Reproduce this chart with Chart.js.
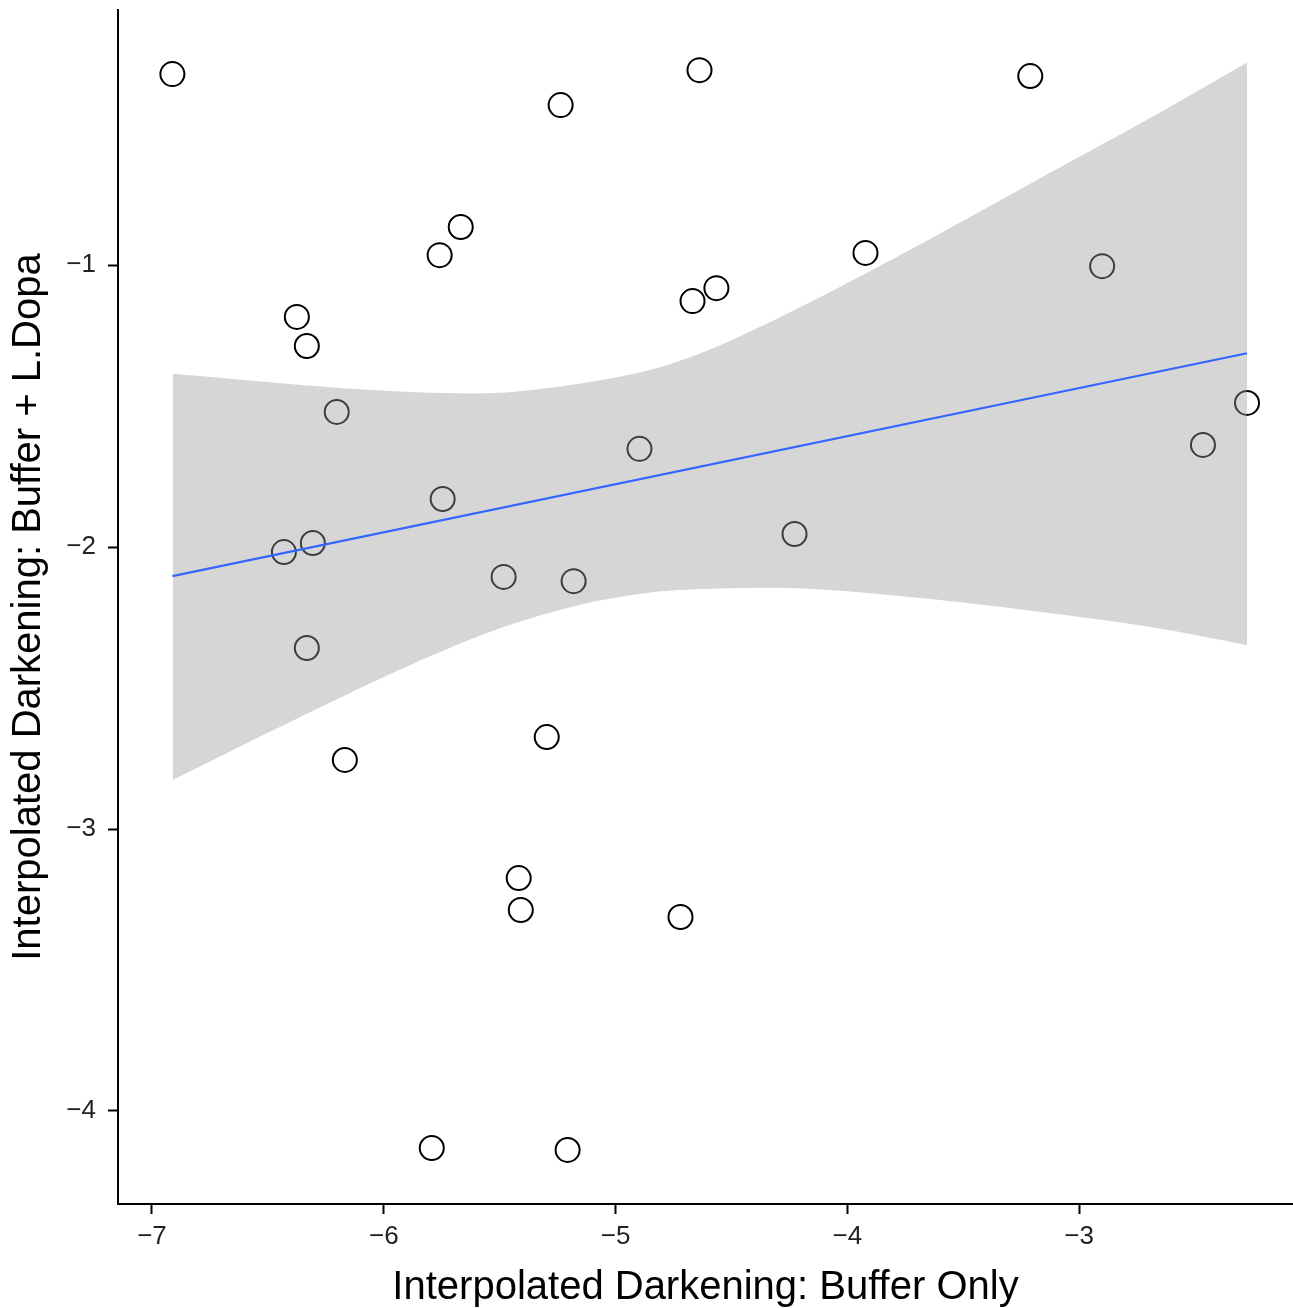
<!DOCTYPE html>
<html>
<head>
<meta charset="utf-8">
<script src="https://cdn.jsdelivr.net/npm/chart.js@4/dist/chart.umd.min.js"></script>
<style>
  html, body { margin: 0; padding: 0; background: #ffffff; overflow: hidden; }
  #wrap { width: 1293px; height: 1308px; }
</style>
</head>
<body>
<div id="wrap"><canvas id="c" width="1293" height="1308"></canvas></div>
<script>
// Observed points
const pointX = [-6.912, -4.638, -3.211, -5.237, -5.668, -5.759, -3.922, -2.901, -6.375, -6.332,
                -4.668, -4.565, -6.203, -2.276, -2.466, -4.897, -5.746, -6.431, -6.306, -4.228,
                -5.483, -5.181, -6.332, -5.297, -6.168, -5.418, -5.409, -4.720, -5.793, -5.207];
const pointY = [-0.323, -0.309, -0.330, -0.433, -0.865, -0.965, -0.957, -1.004, -1.184, -1.287,
                -1.128, -1.082, -1.521, -1.489, -1.638, -1.652, -1.830, -2.018, -1.986, -1.954,
                -2.106, -2.121, -2.358, -2.674, -2.755, -3.174, -3.287, -3.312, -4.131, -4.138];

// Fitted line (endpoints)
const fitX = [-6.912, -2.276];
const fitY = [-2.103, -1.313];

// Confidence band
const bandX     = [-6.910, -6.535, -6.155, -5.828, -5.496, -5.164, -4.836, -4.556, -4.185, -3.685, -3.190, -2.690, -2.276];
const bandUpper = [-1.386, -1.413, -1.438, -1.452, -1.453, -1.422, -1.369, -1.287, -1.142, -0.926, -0.702, -0.477, -0.282];
const bandLower = [-2.826, -2.673, -2.521, -2.397, -2.287, -2.207, -2.160, -2.147, -2.147, -2.181, -2.228, -2.284, -2.348];

// Axis ticks
const xTicks = [-7, -6, -5, -4, -3];
const yTicks = [-4, -3, -2, -1];

const xTitle = 'Interpolated Darkening: Buffer Only';
const yTitle = 'Interpolated Darkening: Buffer + L.Dopa';

const zip = (xs, ys) => xs.map((x, i) => ({x: x, y: ys[i]}));
const fmt = v => String(v).replace('-', '\u2212');
const FONT = "'Liberation Sans', Arial, Helvetica, sans-serif";

new Chart(document.getElementById('c'), {
  type: 'line',
  data: {
    datasets: [
      {
        label: 'points',
        data: zip(pointX, pointY),
        showLine: false,
        pointRadius: 12,
        pointBorderWidth: 2,
        pointBorderColor: '#000000',
        pointBackgroundColor: 'rgba(0,0,0,0)',
        order: 3
      },
      {
        label: 'upper',
        data: zip(bandX, bandUpper),
        borderWidth: 0,
        borderColor: 'rgba(0,0,0,0)',
        pointRadius: 0,
        tension: 0.3,
        fill: '+1',
        backgroundColor: 'rgba(153,153,153,0.4)',
        order: 2
      },
      {
        label: 'lower',
        data: zip(bandX, bandLower),
        borderWidth: 0,
        borderColor: 'rgba(0,0,0,0)',
        pointRadius: 0,
        tension: 0.3,
        fill: false,
        order: 2
      },
      {
        label: 'fit',
        data: zip(fitX, fitY),
        borderColor: '#3366FF',
        borderWidth: 2.2,
        pointRadius: 0,
        fill: false,
        tension: 0,
        order: 1
      }
    ]
  },
  options: {
    responsive: false,
    animation: false,
    layout: { autoPadding: false, padding: { left: 0, right: 0, top: 10, bottom: 0 } },
    plugins: { legend: { display: false }, tooltip: { enabled: false } },
    scales: {
      x: {
        type: 'linear',
        min: -7.1466,
        max: -2.0776,
        afterBuildTicks: s => { s.ticks = xTicks.map(v => ({value: v})); },
        afterFit: s => { s.height = 104; s.paddingLeft = 0; s.paddingRight = 0; },
        border: { display: true, color: '#000000', width: 2 },
        grid: { display: true, drawOnChartArea: false, drawTicks: true, tickLength: 10, tickWidth: 2, tickColor: '#000000' },
        ticks: { color: '#222222', padding: 7, font: { family: FONT, size: 26, lineHeight: 1.2 }, callback: v => fmt(v), maxRotation: 0 },
        title: { display: true, text: xTitle, color: '#000000', font: { family: FONT, size: 40, lineHeight: 1 }, padding: { top: 0, bottom: 0 } }
      },
      y: {
        type: 'linear',
        min: -4.3298,
        max: -0.0957,
        afterBuildTicks: s => { s.ticks = yTicks.map(v => ({value: v})); },
        afterFit: s => { s.width = 118; s.paddingTop = 0; s.paddingBottom = 0; },
        border: { display: true, color: '#000000', width: 2 },
        grid: { display: true, drawOnChartArea: false, drawTicks: true, tickLength: 10, tickWidth: 2, tickColor: '#000000' },
        ticks: { color: '#222222', padding: 12, font: { family: FONT, size: 26, lineHeight: 1.2 }, callback: v => fmt(v) },
        title: { display: true, text: yTitle, color: '#000000', font: { family: FONT, size: 40, lineHeight: 1 }, padding: { top: 9, bottom: 0 } }
      }
    }
  }
});
</script>
</body>
</html>
